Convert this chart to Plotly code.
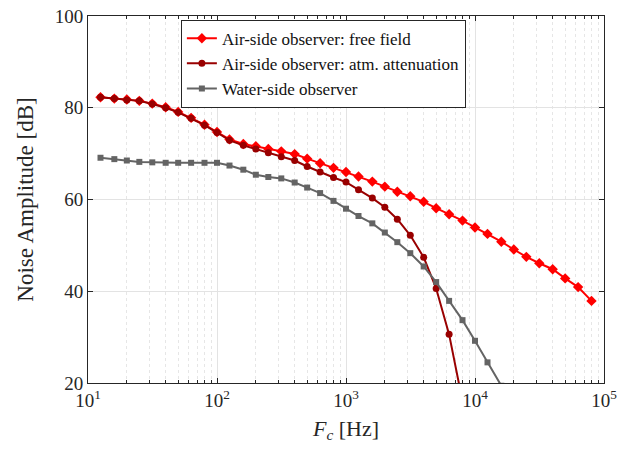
import plotly.graph_objects as go

# One-third octave band centre frequencies [Hz]
freq = [12.5, 16, 20, 25, 31.5, 40, 50, 63, 80, 100, 125, 160, 200, 250, 315,
        400, 500, 630, 800, 1000, 1250, 1600, 2000, 2500, 3150, 4000, 5000,
        6300, 8000, 10000, 12500, 16000, 20000, 25000, 31500, 40000, 50000,
        63000, 80000]

# Air-side observer, free-field propagation [dB]
air_free = [82.3, 82.0, 81.8, 81.5, 80.9, 80.1, 79.1, 77.8, 76.3, 74.7, 73.1,
            72.1, 71.6, 71.0, 70.5, 69.9, 68.9, 67.9, 66.9, 66.0, 65.0, 63.9,
            62.8, 61.7, 60.7, 59.5, 58.1, 56.8, 55.4, 53.9, 52.5, 50.8, 49.1,
            47.5, 46.1, 44.8, 42.8, 40.9, 37.9]

# Air-side observer including atmospheric attenuation [dB]
air_atm = [82.3, 82.0, 81.7, 81.5, 80.8, 80.0, 79.0, 77.7, 76.2, 74.6, 72.9,
           71.8, 71.0, 70.2, 69.3, 68.5, 67.2, 66.0, 64.8, 63.8, 62.1, 60.3,
           58.3, 55.7, 52.2, 47.4, 40.6, 30.6, 16.0]

# Water-side observer [dB]
water = [69.1, 68.8, 68.5, 68.2, 68.1, 68.0, 68.0, 68.0, 68.0, 68.0, 67.4,
         66.5, 65.4, 64.9, 64.6, 63.7, 62.6, 61.4, 59.7, 58.0, 56.4, 54.8,
         52.8, 50.7, 48.3, 45.4, 42.0, 37.9, 33.7, 29.2, 24.5, 19.4]

x_ticks = [10, 100, 1000, 10000, 100000]
x_ticktext = ["10<sup>1</sup>", "10<sup>2</sup>", "10<sup>3</sup>",
              "10<sup>4</sup>", "10<sup>5</sup>"]
y_ticks = [20, 40, 60, 80, 100]

# minor ticks at 2..9 within each decade
x_minor = [m * 10 ** k for k in range(1, 5) for m in range(2, 10)]

FONT = "Liberation Serif"
INK = "#262626"

fig = go.Figure()
fig.add_trace(go.Scatter(
    x=freq[:len(air_free)], y=air_free, mode="lines+markers",
    name="Air-side observer: free field",
    line=dict(color="#ff0000", width=2),
    marker=dict(symbol="diamond", size=8, color="#ff0000"),
))
fig.add_trace(go.Scatter(
    x=freq[:len(air_atm)], y=air_atm, mode="lines+markers",
    name="Air-side observer: atm. attenuation",
    line=dict(color="#990000", width=2),
    marker=dict(symbol="circle", size=7, color="#990000"),
))
fig.add_trace(go.Scatter(
    x=freq[:len(water)], y=water, mode="lines+markers",
    name="Water-side observer",
    line=dict(color="#646464", width=2),
    marker=dict(symbol="square", size=6, color="#646464"),
))

fig.update_xaxes(
    type="log", range=[1, 5], automargin=False,
    tickvals=x_ticks, ticktext=x_ticktext,
    ticks="inside", ticklen=5, tickcolor=INK,
    showline=True, linecolor=INK, linewidth=1, mirror="allticks",
    showgrid=True, gridcolor="#e3e3e3", gridwidth=1,
    minor=dict(tickmode="array", tickvals=x_minor,
               ticks="inside", ticklen=3, tickcolor=INK,
               showgrid=True, gridcolor="#e6e6e6", griddash="dot"),
    tickfont=dict(family=FONT, size=19, color=INK),
    title=dict(text="<i>F</i><sub><i>c</i></sub> [Hz]",
               font=dict(family=FONT, size=22, color=INK), standoff=10),
    zeroline=False,
)
fig.update_yaxes(
    range=[20, 100], tickvals=y_ticks, automargin=False,
    ticks="inside", ticklen=5, tickcolor=INK,
    showline=True, linecolor=INK, linewidth=1, mirror="allticks",
    showgrid=True, gridcolor="#e3e3e3", gridwidth=1,
    tickfont=dict(family=FONT, size=19, color=INK),
    title=dict(text="Noise Amplitude [dB]",
               font=dict(family=FONT, size=23, color=INK), standoff=14),
    zeroline=False,
)

fig.update_layout(
    width=621, height=449,
    margin=dict(l=88, r=17, t=16, b=66),
    paper_bgcolor="white", plot_bgcolor="white",
    showlegend=True,
    legend=dict(
        x=0.180, y=0.99, xanchor="left", yanchor="top",
        bgcolor="white", bordercolor=INK, borderwidth=1,
        font=dict(family=FONT, size=17, color="#111111"),
        itemwidth=30, tracegroupgap=0,
    ),
)

fig.write_html("out.html")
